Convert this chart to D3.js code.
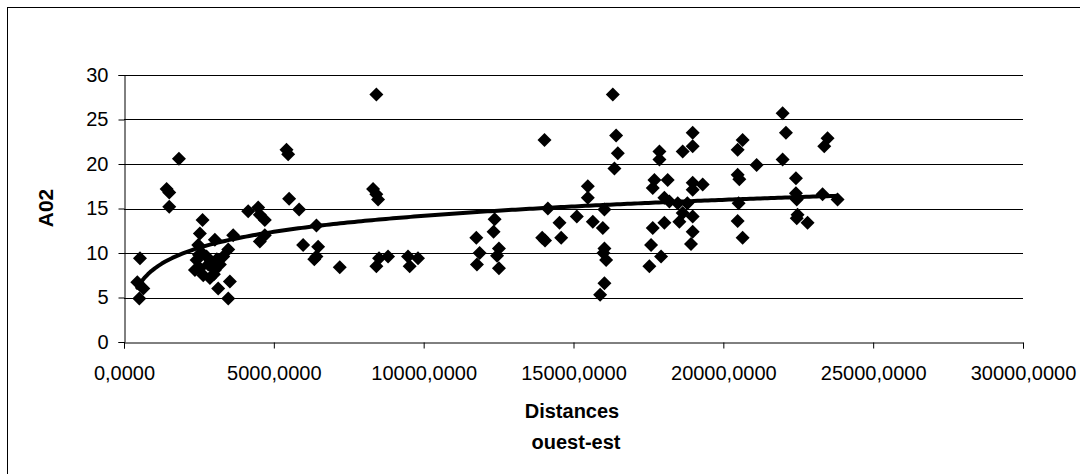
<!DOCTYPE html>
<html>
<head>
<meta charset="utf-8">
<script src="https://cdn.jsdelivr.net/npm/d3@7"></script>
<style>
  html, body { margin: 0; padding: 0; background: #fff; }
  svg { display: block; font-family: "Liberation Sans", Arial, sans-serif; }
</style>
</head>
<body>
<svg id="chart" width="1080" height="474"></svg>
<script>
// Distances ouest-est (x) and A02 (y)
const distances = [
  533, 444, 644, 511,
  1422, 1511, 1511, 1833,
  2622, 2533, 2478, 3033, 3644, 3478, 3311, 2422, 2533, 2644, 2811, 3033, 3200, 2867, 3144, 3533, 3478, 2367, 2756, 2600, 2900, 3100, 2500, 3000,
  4144, 4478, 4533, 4700, 4533, 4700,
  5422, 5478, 5511, 5844, 5978, 6422, 6478, 6422, 6350, 7200,
  8422, 8311, 8420, 8478, 8422, 8511, 8811,
  9478, 9533, 9811,
  11756, 11867, 11778, 12367, 12333, 12511, 12450, 12511,
  14033, 14144, 13956, 14050, 14533, 14589, 15111,
  15478, 15478, 15644, 16033, 15978, 16033, 16089, 16000, 16033, 15889, 16311, 16422, 16478, 16367,
  17867, 17867, 17700, 17644, 18144, 18033, 18200, 17644, 18033, 17589, 17922, 17533,
  18978, 18644, 18978, 18978, 18978, 19311, 18478, 18800, 18533, 18644, 18978, 18978, 18922,
  20644, 20478, 21111, 20478, 20533, 20511, 20478, 20644,
  21978, 22089, 21978, 22422, 22422, 22450, 22478, 22450, 22811, 23478, 23367, 23311, 23811
];
const a02 = [
  9.4, 6.7, 6.0, 4.9,
  17.2, 16.8, 15.2, 20.6,
  13.7, 12.2, 10.9, 11.5, 12.0, 10.4, 9.6, 9.2, 8.3, 7.5, 8.7, 8.1, 8.7, 7.2, 6.0, 6.8, 4.9, 8.1, 9.6, 10.0, 9.0, 9.3, 9.8, 7.6,
  14.7, 15.1, 14.3, 13.7, 11.3, 12.0,
  21.6, 21.1, 16.1, 14.9, 10.9, 13.1, 10.7, 9.6, 9.3, 8.4,
  27.8, 17.2, 16.6, 16.0, 8.5, 9.4, 9.6,
  9.6, 8.5, 9.4,
  11.7, 10.0, 8.7, 13.8, 12.4, 10.5, 9.7, 8.3,
  22.7, 15.0, 11.7, 11.4, 13.4, 11.7, 14.1,
  17.5, 16.2, 13.5, 14.9, 12.8, 10.5, 9.2, 10.0, 6.6, 5.3, 27.8, 23.2, 21.2, 19.5,
  21.4, 20.5, 18.2, 17.3, 18.2, 16.2, 15.8, 12.8, 13.4, 10.9, 9.6, 8.5,
  23.5, 21.4, 22.0, 17.9, 17.1, 17.7, 15.6, 15.6, 13.5, 14.5, 14.1, 12.4, 11.0,
  22.7, 21.6, 19.9, 18.8, 18.3, 15.6, 13.6, 11.7,
  25.7, 23.5, 20.5, 18.4, 16.7, 16.0, 14.3, 13.9, 13.4, 22.9, 22.0, 16.6, 16.0
];
const xTicks = [0, 5000, 10000, 15000, 20000, 25000, 30000];
const yTicks = [0, 5, 10, 15, 20, 25, 30];
const xTitle = ["Distances", "ouest-est"];
const yTitle = "A02";

const svg = d3.select("#chart");
const W = 1080, H = 474;
const plot = { left: 124, right: 1023, top: 75, bottom: 342 };
const FONT = "'Liberation Sans', Arial, sans-serif";

// outer frame (extends beyond right & bottom edges like the reference)
svg.append("rect").attr("x", 7.5).attr("y", 7.5).attr("width", W + 20).attr("height", H + 20)
  .attr("fill", "#fff").attr("stroke", "#000").attr("stroke-width", 1);

const x = d3.scaleLinear().domain([0, 30000]).range([plot.left, plot.right]);
const y = d3.scaleLinear().domain([0, 30]).range([plot.bottom, plot.top]);

// gridlines
svg.append("g").selectAll("line").data(yTicks.filter(d => d > 0)).join("line")
  .attr("x1", plot.left).attr("x2", plot.right)
  .attr("y1", d => Math.round(y(d)) + 0.5).attr("y2", d => Math.round(y(d)) + 0.5)
  .attr("stroke", "#000").attr("stroke-width", 1);

// y axis
const fmtX = d => d3.format(".4f")(d).replace(".", ",");
const yAxis = svg.append("g").attr("transform", `translate(${plot.left + 0.5},0)`)
  .call(d3.axisLeft(y).tickValues(yTicks).tickSize(6).tickPadding(10).tickFormat(d3.format("d")));
yAxis.select(".domain").attr("stroke", "#000");
yAxis.selectAll(".tick line").attr("stroke", "#000");
yAxis.selectAll("text").attr("font-size", 20).attr("fill", "#000").attr("font-family", FONT);

// x axis
const xAxis = svg.append("g").attr("transform", `translate(0,${plot.bottom + 0.5})`)
  .call(d3.axisBottom(x).tickValues(xTicks).tickSize(6).tickPadding(0).tickFormat(fmtX));
xAxis.select(".domain").attr("stroke", "#000");
xAxis.selectAll(".tick line").attr("stroke", "#000");
xAxis.selectAll("text").attr("font-size", 20).attr("fill", "#000").attr("font-family", FONT)
  .attr("dy", null).attr("y", 37);

// points
const pts = distances.map((d, i) => ({ x: d, y: a02[i] }));
const r = 7;
svg.append("g").selectAll("path").data(pts).join("path")
  .attr("d", d => {
    const cx = x(d.x), cy = y(d.y);
    return `M${cx},${cy - r}L${cx + r},${cy}L${cx},${cy + r}L${cx - r},${cy}Z`;
  })
  .attr("fill", "#000");

// logarithmic trend line (least squares on ln x)
const lx = pts.map(p => Math.log(p.x));
const mx = d3.mean(lx), my = d3.mean(pts, p => p.y);
let sxy = 0, sxx = 0;
pts.forEach((p, i) => { sxy += (lx[i] - mx) * (p.y - my); sxx += (lx[i] - mx) ** 2; });
const slope = sxy / sxx, intercept = my - slope * mx;
const [xmin, xmax] = d3.extent(distances);
const trend = d3.range(0, 201).map(i => {
  const xv = xmin + (xmax - xmin) * i / 200;
  return [xv, slope * Math.log(xv) + intercept];
});
svg.append("path").datum(trend)
  .attr("d", d3.line().x(d => x(d[0])).y(d => y(d[1])))
  .attr("fill", "none").attr("stroke", "#000").attr("stroke-width", 4)
  .attr("stroke-linecap", "round").attr("stroke-linejoin", "round");

// axis titles
svg.append("text").attr("transform", `translate(${53},${208}) rotate(-90)`)
  .attr("text-anchor", "middle").attr("font-weight", "bold").attr("font-size", 21)
  .attr("font-family", FONT).text(yTitle);
svg.append("text").attr("x", 572).attr("y", 418).attr("text-anchor", "middle")
  .attr("font-weight", "bold").attr("font-size", 20).attr("font-family", FONT).text(xTitle[0]);
svg.append("text").attr("x", 576).attr("y", 449).attr("text-anchor", "middle")
  .attr("font-weight", "bold").attr("font-size", 20).attr("font-family", FONT).text(xTitle[1]);
</script>
</body>
</html>
